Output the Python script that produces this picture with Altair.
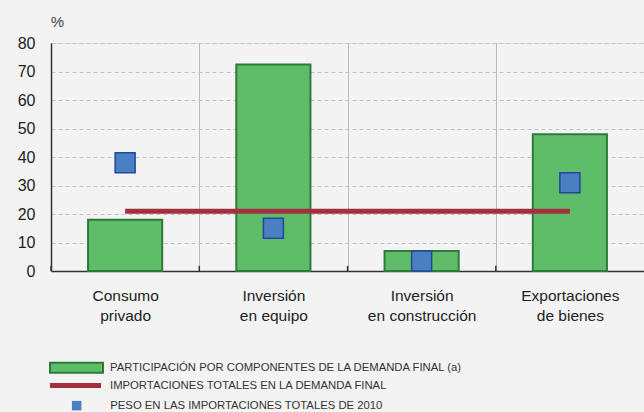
import altair as alt
import pandas as pd

# Demand components
categories = [
    "Consumo privado",
    "Inversión en equipo",
    "Inversión en construcción",
    "Exportaciones de bienes",
]
participacion = [18, 72.5, 7, 48]          # share of final demand (a)
peso_2010 = [38, 15, 3.5, 31]              # weight in total imports, 2010
importaciones_totales = 21                 # total imports in final demand

legend_bar = "PARTICIPACIÓN POR COMPONENTES DE LA DEMANDA FINAL (a)"
legend_line = "IMPORTACIONES TOTALES EN LA DEMANDA FINAL"
legend_square = "PESO EN LAS IMPORTACIONES TOTALES DE 2010"

GREEN, GREEN_DARK = "#5fbd6a", "#2e7a3b"
BLUE, BLUE_DARK = "#4a7fc2", "#23479b"
RED = "#a3303f"
BG = "#f2f3f2"

W, H = 593, 228
TOP, LEFT = 43, 51
HALF_GAP = 37  # half of the space between two bars, in pixels
LEGEND_FONT = "Liberation Sans Narrow, Liberation Sans, Arial"

df = pd.DataFrame({
    "cat": categories,
    "part": participacion,
    "peso": peso_2010,
    "s_bar": legend_bar,
    "s_sq": legend_square,
})
line_df = pd.DataFrame({
    "start": [categories[0]],
    "end": [categories[-1]],
    "val": [importaciones_totales],
    "s_line": [legend_line],
})

x_scale = alt.Scale(domain=categories, paddingInner=0.5, paddingOuter=0.25)
y_scale = alt.Scale(domain=[0, 80])

x_axis = alt.Axis(
    title=None,
    bandPosition=0,
    tickOffset=-HALF_GAP,
    labelOffset=HALF_GAP,
    labelAngle=0,
    labelAlign="center",
    labelBaseline="top",
    labelPadding=17,
    labelLineHeight=20.5,
    labelFontSize=15.5,
    labelColor="#222",
    labelExpr="[substring(datum.label, 0, indexof(datum.label, ' ')), "
              "substring(datum.label, indexof(datum.label, ' ') + 1)]",
    grid=True,
    gridColor="#b9b9b9",
    gridWidth=1,
    ticks=False,
    domainColor="#333",
    domainWidth=1.5,
)
y_axis = alt.Axis(
    title="%",
    titleAngle=0,
    titleAlign="center",
    titleBaseline="middle",
    titleX=6,
    titleY=-22,
    titleFontSize=15,
    titleFontWeight="normal",
    titleColor="#444",
    values=list(range(0, 81, 10)),
    labelOverlap=False,
    labelFontSize=16,
    labelColor="#222",
    labelPadding=16,
    ticks=False,
    grid=True,
    gridColor="#c4c4c4",
    gridDash=[4, 3],
    gridWidth=1.2,
    domainColor="#333",
    domainWidth=1.5,
)

legend_common = dict(
    title=None, orient="none", padding=0, labelLimit=0,
    labelFont=LEGEND_FONT, labelFontSize=11.3, labelColor="#333",
)
bar_legend = alt.Legend(
    legendX=-2, legendY=366.7 - TOP - 26.5,
    symbolType="M-1,-0.19H1V0.19H-1Z", symbolSize=2809,
    symbolStrokeColor=GREEN_DARK, symbolStrokeWidth=2, labelOffset=6,
    **legend_common,
)
line_legend = alt.Legend(
    legendX=-1, legendY=385.5 - TOP - 25.5,
    symbolType="M-1,-0.1H1V0.1H-1Z", symbolSize=2601,
    symbolFillColor=RED, symbolStrokeWidth=0, labelOffset=9,
    **legend_common,
)
square_legend = alt.Legend(
    legendX=20, legendY=405 - TOP - 5,
    symbolType="square", symbolSize=90,
    symbolFillColor=BLUE, symbolStrokeColor=BLUE_DARK, symbolStrokeWidth=1.2,
    labelOffset=28,
    **legend_common,
)

base = alt.Chart(df)
x_enc = alt.X("cat:N", scale=x_scale, axis=x_axis, sort=categories)

bars = base.mark_bar(stroke=GREEN_DARK, strokeWidth=2).encode(
    x=x_enc,
    y=alt.Y("part:Q", scale=y_scale, axis=y_axis),
    fill=alt.Fill("s_bar:N", scale=alt.Scale(range=[GREEN]), legend=bar_legend),
)

# short upward ticks at the boundaries between components
ticks = base.mark_rule(color="#333", strokeWidth=1.5).encode(
    x=alt.X("cat:N", scale=x_scale, axis=x_axis, sort=categories, bandPosition=0),
    xOffset=alt.value(-HALF_GAP),
    y=alt.datum(0, scale=y_scale, axis=y_axis),
    y2=alt.datum(1.8),
)

line = alt.Chart(line_df).mark_rule(strokeWidth=5).encode(
    x=alt.X("start:N", scale=x_scale, axis=x_axis, sort=categories),
    x2="end:N",
    y=alt.Y("val:Q", scale=y_scale, axis=y_axis),
    stroke=alt.Stroke("s_line:N", scale=alt.Scale(range=[RED]), legend=line_legend),
)

squares = base.mark_point(
    filled=True, fill=BLUE, stroke=BLUE_DARK, strokeWidth=1.5, size=400, opacity=1
).encode(
    x=x_enc,
    y=alt.Y("peso:Q", scale=y_scale, axis=y_axis),
    shape=alt.Shape("s_sq:N", scale=alt.Scale(range=["square"]), legend=square_legend),
)

chart = (
    alt.layer(bars, ticks, line, squares)
    .properties(
        width=W,
        height=H,
        background=BG,
        padding={"left": LEFT, "top": TOP, "right": 0, "bottom": 412 - TOP - H},
        autosize=alt.AutoSizeParams(type="none"),
    )
    .configure_view(stroke=None)
    .configure(font="Liberation Sans")
)

chart.save("out.html", embed_options={"renderer": "svg", "actions": False})
